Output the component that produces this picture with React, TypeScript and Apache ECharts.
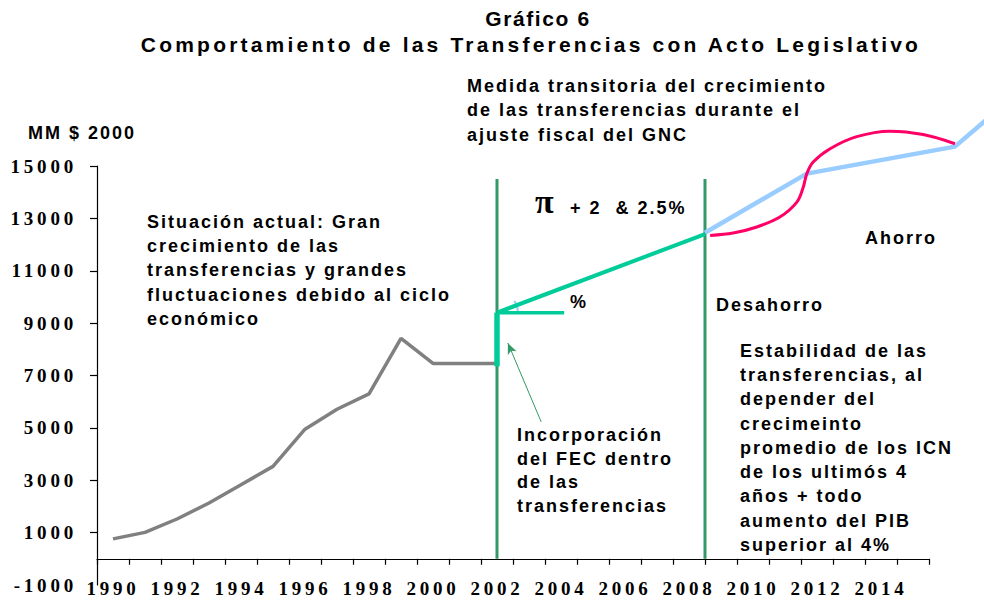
import React, { useEffect, useRef } from 'react';
import * as echarts from 'echarts';

// ---- data ----
const categories = ['1990', '1991', '1992', '1993', '1994', '1995', '1996', '1997', '1998', '1999', '2000', '2001', '2002', '2003', '2004', '2005', '2006', '2007', '2008', '2009', '2010', '2011', '2012', '2013', '2014', '2015'];
const actualTransfers = [760, 1010, 1520, 2130, 2830, 3530, 4950, 5710, 6300, 8420, 7460, 7460, 7460];
const periodStart = [[2002, 0], [2002, 14500]];
const periodEnd = [[2008.5, 0], [2008.5, 14500]];
const fecIncorporation = [[2002, 7350], [2002, 9400]];
const baseLevel = [[2002, 9400], [2004.1, 9400]];
const transitoryGrowth = [[2002, 9400], [2008.5, 12400]];
const stableRule = [[2008.5, 12450], [2011.68, 14710], [2016.31, 15740], [2017.5, 16980]];
const cyclicalPath = [[2008.66, 12350], [2009.38, 12440], [2010.12, 12670], [2010.84, 13050], [2011.37, 13620], [2011.57, 14190], [2011.68, 14700], [2011.88, 15150], [2012.41, 15660], [2013.24, 16120], [2014.28, 16330], [2015.32, 16200], [2016.31, 15850]];
const angleVertex = [[2002, 9400]];
const arrowTail = [2003.38, 5230];
const arrowHead = [2002.34, 8240];
const yLabelValues = [-1000, 1000, 3000, 5000, 7000, 9000, 11000, 13000, 15000];
const yTickValues = [1000, 3000, 5000, 7000, 9000, 11000, 13000, 15000];

const AX_FONT = "'Liberation Serif', zzax, serif";
const ANN_FONT = "'Liberation Sans', zzann, sans-serif";
const TTA_FONT = "'Liberation Sans', zzta, sans-serif";
const TTB_FONT = "'Liberation Sans', zztb, sans-serif";

const css = `
#chart-root [style*="zzax"] { letter-spacing: 3.8px; }
#chart-root [style*="zzann"] { letter-spacing: 2px; }
#chart-root [style*="zzta"] { letter-spacing: 1.6px; }
#chart-root [style*="zztb"] { letter-spacing: 3.2px; }
`;

function annText(text: string, x: number, y: number, va: string, lh?: number, size = 18) {
  return {
    type: 'text',
    x,
    y,
    silent: true,
    style: {
      text,
      fill: '#000',
      fontSize: size,
      fontWeight: 'bold',
      fontFamily: ANN_FONT,
      lineHeight: lh,
      align: 'left',
      verticalAlign: va,
      textAlign: 'left',
      textVerticalAlign: va,
    },
  };
}

export default function App() {
  const ref = useRef<HTMLDivElement>(null);
  useEffect(() => {
    if (!ref.current) return;
    const chart = echarts.init(ref.current, null, { renderer: 'svg' });
    const lineBase = (data: any, color: string, width: number, extra: any = {}) => ({
      type: 'line',
      xAxisIndex: 1,
      yAxisIndex: 1,
      data,
      showSymbol: false,
      symbol: 'none',
      clip: false,
      silent: true,
      lineStyle: { color, width, cap: 'butt' },
      ...extra,
    });
    chart.setOption({
      animation: false,
      backgroundColor: '#fff',
      grid: [
        { left: 97, right: 55, top: 166, bottom: 16, containLabel: false, outerBoundsMode: 'none' },
        { left: 97, right: -73, top: 166, bottom: 16, containLabel: false, outerBoundsMode: 'none' },
      ],
      xAxis: [
        {
          type: 'category',
          gridIndex: 0,
          data: categories,
          boundaryGap: true,
          axisLine: { onZero: true, lineStyle: { color: '#000', width: 1.2 } },
          axisTick: { show: true, interval: 0, length: 6, lineStyle: { color: '#000', width: 1.2 } },
          axisLabel: {
            interval: 1,
            margin: -6,
            color: '#000',
            fontSize: 19,
            fontWeight: 'bold',
            fontFamily: AX_FONT,
          },
          splitLine: { show: false },
        },
        {
          type: 'value',
          gridIndex: 1,
          min: 1989.5,
          max: 2019.5,
          show: false,
          splitLine: { show: false },
        },
      ],
      yAxis: [
        {
          type: 'value',
          gridIndex: 0,
          min: -1000,
          max: 15000,
          axisLine: { show: true, onZero: false, lineStyle: { color: '#000', width: 1.2 } },
          axisTick: { show: true, length: 7, customValues: yTickValues, lineStyle: { color: '#000', width: 1.2 } },
          axisLabel: {
            customValues: yLabelValues,
            formatter: (v: number) => String(v),
            margin: 20,
            color: '#000',
            fontSize: 19,
            fontWeight: 'bold',
            fontFamily: AX_FONT,
          },
          splitLine: { show: false },
        },
        {
          type: 'value',
          gridIndex: 1,
          min: -1000,
          max: 15000,
          show: false,
          splitLine: { show: false },
        },
      ],
      series: [
        lineBase(periodStart, '#339966', 3),
        lineBase(periodEnd, '#339966', 3),
        {
          type: 'line',
          xAxisIndex: 0,
          yAxisIndex: 0,
          data: actualTransfers,
          showSymbol: false,
          symbol: 'none',
          silent: true,
          lineStyle: { color: '#808080', width: 3.5 },
        },
        lineBase(fecIncorporation, '#00cc99', 5.5),
        lineBase(baseLevel, '#00cc99', 3.5, {
          markLine: {
            silent: true,
            symbol: ['none', 'arrow'],
            symbolSize: [7, 11],
            label: { show: false },
            lineStyle: { color: '#339966', width: 1, type: 'solid' },
            data: [[{ coord: arrowTail }, { coord: arrowHead }]],
          },
        }),
        lineBase(transitoryGrowth, '#00cc99', 4),
        lineBase(stableRule, '#99ccff', 4.5),
        lineBase(cyclicalPath, '#ff0066', 3, { smooth: 0.35 }),
        {
          type: 'custom',
          xAxisIndex: 1,
          yAxisIndex: 1,
          data: angleVertex,
          clip: false,
          silent: true,
          renderItem: (_params: any, api: any) => {
            const p = api.coord([api.value(0), api.value(1)]);
            return {
              type: 'arc',
              shape: { cx: p[0], cy: p[1], r: 21, startAngle: -0.6, endAngle: -0.03, clockwise: true },
              style: { stroke: '#99ccff', lineWidth: 2, fill: 'none' },
            };
          },
        },
      ],
      graphic: [
        {
          type: 'text',
          x: 538,
          y: 18,
          silent: true,
          style: { text: 'Gráfico 6', fill: '#000', fontSize: 21, fontWeight: 'bold', fontFamily: TTA_FONT, align: 'center', verticalAlign: 'middle', textAlign: 'center', textVerticalAlign: 'middle' },
        },
        {
          type: 'text',
          x: 531,
          y: 44,
          silent: true,
          style: { text: 'Comportamiento de las Transferencias con Acto Legislativo', fill: '#000', fontSize: 21, fontWeight: 'bold', fontFamily: TTB_FONT, align: 'center', verticalAlign: 'middle', textAlign: 'center', textVerticalAlign: 'middle' },
        },
        annText('MM $ 2000', 28, 133, 'middle'),
        annText('Situación actual: Gran\ncrecimiento de las\ntransferencias y grandes\nfluctuaciones debido al ciclo\neconómico', 147, 209.5, 'top', 24.3),
        annText('Medida transitoria del crecimiento\nde las transferencias durante el\najuste fiscal del GNC', 467, 74, 'top', 24.3),
        {
          type: 'text',
          x: 535,
          y: 201,
          silent: true,
          style: { text: 'π', fill: '#000', fontSize: 34, fontWeight: 'bold', fontFamily: "'Liberation Serif', serif", align: 'left', verticalAlign: 'middle', textAlign: 'left', textVerticalAlign: 'middle' },
        },
        annText('+ 2  & 2.5%', 570, 208, 'middle'),
        annText('%', 570, 302, 'middle'),
        annText('Desahorro', 716, 305, 'middle'),
        annText('Ahorro', 865, 238, 'middle'),
        annText('Estabilidad de las\ntransferencias, al\ndepender del\ncrecimeinto\npromedio de los ICN\nde los ultimós 4\naños + todo\naumento del PIB\nsuperior al 4%', 740, 338.5, 'top', 24.3),
        annText('Incorporación\ndel FEC dentro\nde las\ntransferencias', 517, 423, 'top', 23.7),
      ],
    });
    return () => chart.dispose();
  }, []);
  return (
    <>
      <style>{css}</style>
      <div
        id="chart-root"
        ref={ref}
        style={{ position: 'fixed', left: 0, top: 0, width: 984, height: 601, background: '#fff' }}
      />
    </>
  );
}
